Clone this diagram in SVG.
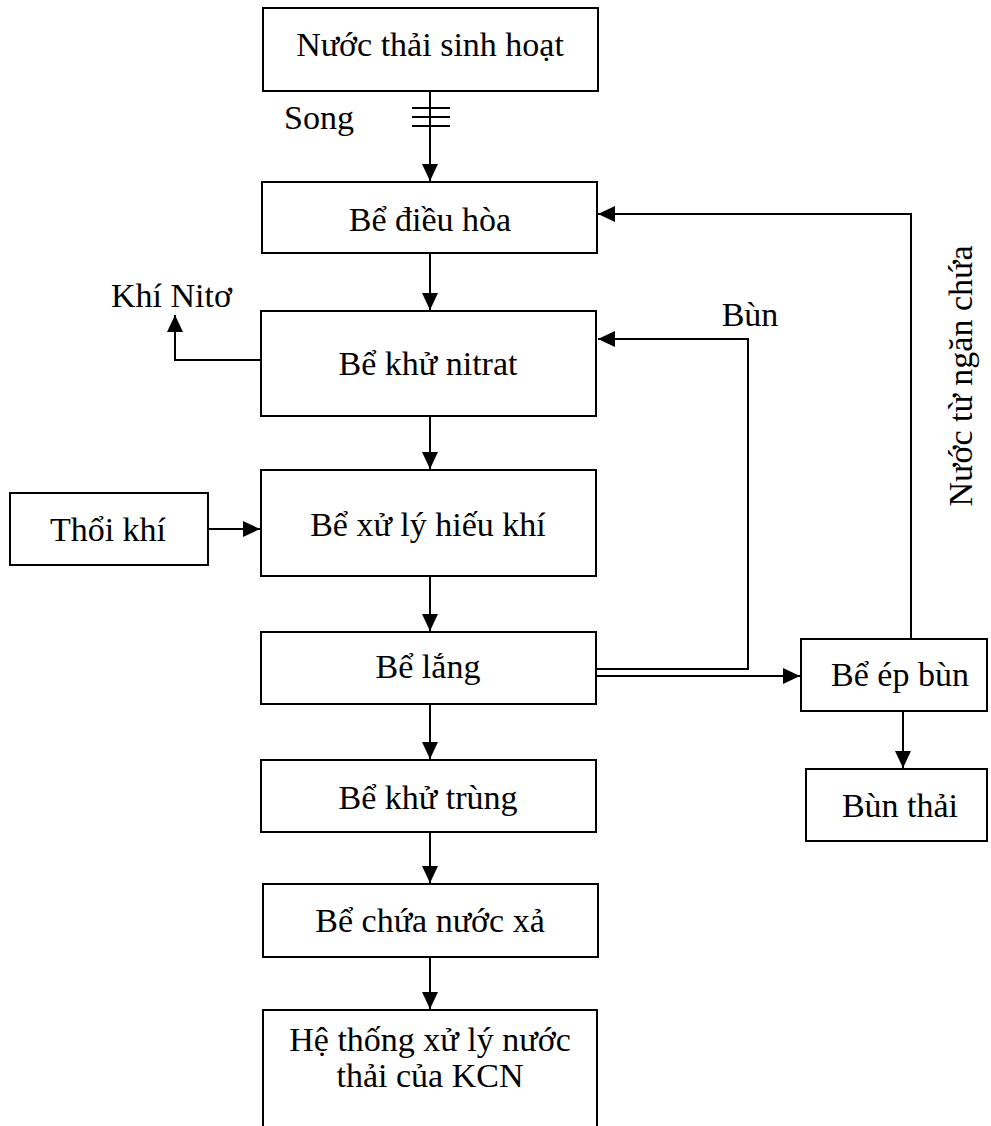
<svg xmlns="http://www.w3.org/2000/svg" width="991" height="1126" viewBox="0 0 991 1126">
<style>
.box{fill:#fff;stroke:#000;stroke-width:2}
.ln{fill:none;stroke:#000;stroke-width:2}
.t{font-family:"Liberation Serif","Times New Roman",serif;font-size:34px;fill:#000;text-anchor:middle}
.tl{font-family:"Liberation Serif","Times New Roman",serif;font-size:34px;fill:#000}
</style>
<defs>
<marker id="ah" viewBox="0 0 17 16" refX="17" refY="8" markerWidth="17" markerHeight="16" markerUnits="userSpaceOnUse" orient="auto">
<path d="M0,0 L17,8 L0,16 z" fill="#000"/>
</marker>
</defs>
<rect width="991" height="1126" fill="#fff"/>
<g id="connectors">
<line class="ln" x1="430" y1="91" x2="430" y2="181" marker-end="url(#ah)"/>
<line class="ln" x1="412" y1="108" x2="450" y2="108" stroke-width="1.5"/>
<line class="ln" x1="412" y1="117" x2="450" y2="117" stroke-width="1.5"/>
<line class="ln" x1="412" y1="126" x2="450" y2="126" stroke-width="1.5"/>
<line class="ln" x1="430" y1="253" x2="430" y2="310" marker-end="url(#ah)"/>
<line class="ln" x1="430" y1="416" x2="430" y2="469" marker-end="url(#ah)"/>
<line class="ln" x1="430" y1="576" x2="430" y2="631" marker-end="url(#ah)"/>
<line class="ln" x1="430" y1="704" x2="430" y2="759" marker-end="url(#ah)"/>
<line class="ln" x1="430" y1="832" x2="430" y2="883" marker-end="url(#ah)"/>
<line class="ln" x1="430" y1="957" x2="430" y2="1009" marker-end="url(#ah)"/>
<polyline class="ln" points="261,360 175,360 175,315" marker-end="url(#ah)"/>
<line class="ln" x1="208" y1="529" x2="260" y2="529" marker-end="url(#ah)"/>
<polyline class="ln" points="597,669 748,669 748,339 598,339" marker-end="url(#ah)"/>
<line class="ln" x1="597" y1="676" x2="800" y2="676" marker-end="url(#ah)"/>
<polyline class="ln" points="911,639 911,214 598,214" marker-end="url(#ah)"/>
<line class="ln" x1="903" y1="711" x2="903" y2="768" marker-end="url(#ah)"/>
</g>
<g id="n1"><rect class="box" x="263" y="8" width="335" height="83"/><text class="t" x="430" y="56">Nước thải sinh hoạt</text></g>
<g id="n2"><rect class="box" x="262" y="182" width="335" height="71"/><text class="t" x="430" y="231">Bể điều hòa</text></g>
<g id="n3"><rect class="box" x="261" y="311" width="335" height="105"/><text class="t" x="428" y="375">Bể khử nitrat</text></g>
<g id="n4"><rect class="box" x="261" y="470" width="335" height="106"/><text class="t" x="428" y="536">Bể xử lý hiếu khí</text></g>
<g id="n5"><rect class="box" x="261" y="632" width="335" height="72"/><text class="t" x="428" y="678">Bể lắng</text></g>
<g id="n6"><rect class="box" x="261" y="760" width="335" height="72"/><text class="t" x="428" y="809">Bể khử trùng</text></g>
<g id="n7"><rect class="box" x="263" y="884" width="335" height="73"/><text class="t" x="430" y="932">Bể chứa nước xả</text></g>
<g id="n8"><rect class="box" x="263" y="1010" width="334" height="140"/><text class="t" x="430" y="1051">Hệ thống xử lý nước</text><text class="t" x="430" y="1087">thải của KCN</text></g>
<g id="n9"><rect class="box" x="10" y="493" width="198" height="72"/><text class="t" x="108" y="541">Thổi khí</text></g>
<g id="n10"><rect class="box" x="801" y="639" width="186" height="72"/><text class="t" x="900" y="686">Bể ép bùn</text></g>
<g id="n11"><rect class="box" x="806" y="769" width="181" height="72"/><text class="t" x="900" y="817">Bùn thải</text></g>
<g id="labels">
<text class="tl" x="284" y="129">Song</text>
<text class="tl" x="111" y="307">Khí Nitơ</text>
<text class="t" x="750" y="326">Bùn</text>
<text class="t" transform="translate(972,376) rotate(-90)" x="0" y="0">Nước từ ngăn chứa</text>
</g>
</svg>
